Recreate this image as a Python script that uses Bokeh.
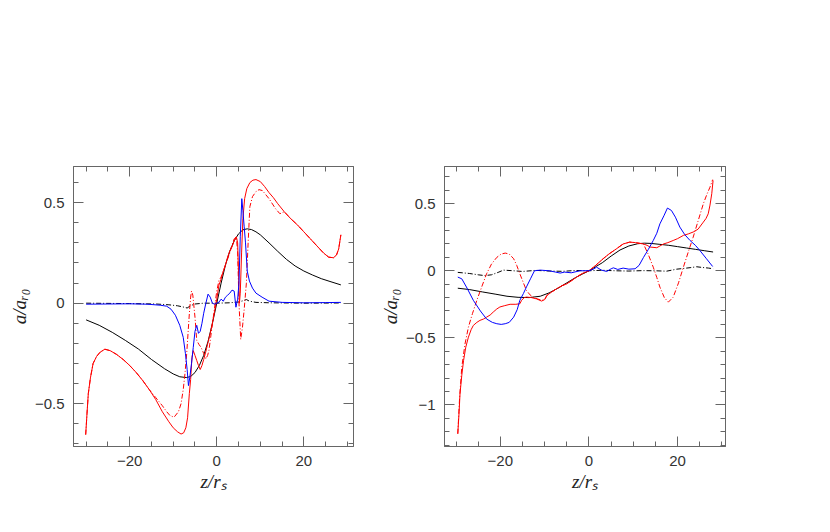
from bokeh.plotting import figure
from bokeh.layouts import row
from bokeh.models import Range1d, LinearAxis, SingleIntervalTicker, CustomJSTickFormatter
from bokeh.embed import file_html
from bokeh.resources import INLINE

# ---------------- left panel data ----------------
L_black_x = [-30, -27, -24, -21, -18, -15, -12, -10, -8.5, -7, -6, -5, -4, -3, -2, -1, 0,
             1, 2, 3, 4, 5, 6, 7, 8, 9, 10, 12, 14, 16, 18, 20, 22, 24, 26, 28.5]
L_black_y = [-0.083, -0.11, -0.145, -0.185, -0.228, -0.28, -0.326, -0.352, -0.366, -0.37,
             -0.365, -0.345, -0.31, -0.26, -0.19, -0.10, 0.0, 0.10, 0.19, 0.26, 0.31, 0.345,
             0.365, 0.37, 0.366, 0.355, 0.34, 0.30, 0.258, 0.218, 0.185, 0.16, 0.14, 0.122,
             0.108, 0.091]

L_blackdd_x = [-30, -20, -14, -11, -9, -7.5, -6.8, -6, -5, -3, 0, 3, 5, 6, 6.8, 7.5, 9, 12, 20, 28.5]
L_blackdd_y = [0.0, -0.002, -0.004, -0.008, -0.013, -0.02, -0.024, -0.012, -0.004, 0.0, 0.0,
               0.002, 0.006, 0.012, 0.018, 0.01, 0.004, 0.002, 0.0, 0.001]

L_blue_x = [-30, -25, -20, -16, -13, -11.5, -10.5, -9.5, -8.5, -7.7, -7.2, -6.8, -6.5, -6.2,
            -5.8, -5.4, -5.0, -4.6, -4.2, -3.8, -3.4, -3.0, -2.5, -2.0, -1.5, -1.0, -0.5, 0,
            0.5, 1.0, 1.5, 2.0, 2.5, 3.0, 3.5, 4.0, 4.4, 4.8, 5.1, 5.4, 5.75, 6.0, 6.3, 6.6,
            7.0, 7.5, 8.2, 9.0, 10.4, 12, 15, 20, 25, 28.5]
L_blue_y = [-0.005, -0.004, -0.003, -0.005, -0.01, -0.015, -0.03, -0.06, -0.11, -0.17, -0.25,
            -0.33, -0.41, -0.37, -0.30, -0.22, -0.14, -0.11, -0.15, -0.14, -0.10, -0.05, 0.0,
            0.045, 0.03, 0.0, -0.005, 0.0, 0.005, 0.02, 0.01, 0.03, 0.04, 0.05, 0.065, 0.06,
            -0.02, 0.02, 0.1, 0.33, 0.52, 0.46, 0.38, 0.30, 0.16, 0.11, 0.075, 0.05, 0.03,
            0.01, 0.004, 0.002, 0.003, 0.004]

L_red_x = [-30.1, -29.8, -29.5, -29, -28.4, -27.6, -26.8, -25.7, -24.5, -23, -21.5, -20, -18.5,
           -17, -15.5, -14, -12.5, -11, -10, -9, -8.2, -7.6, -7.1, -6.7, -6.3, -6.0, -5.7,
           -5.4, -5.0, -4.6, -4.2, -3.8, -3.4, -3.0, -2.5, -2.0, -1.5, -1.0, -0.5, 0, 0.5,
           1.0, 1.5, 2.0, 2.5, 3.0, 3.5, 4.0, 4.5, 4.8, 5.0, 5.2, 5.4, 5.7, 6.0, 6.4, 6.9,
           7.6, 8.3, 9.0, 10, 11, 12, 13, 14, 15.5, 17, 18.5, 20, 21.5, 23, 24.5, 25.7, 26.8,
           27.5, 28, 28.5]
L_red_y = [-0.654, -0.55, -0.45, -0.37, -0.30, -0.265, -0.244, -0.229, -0.236, -0.255, -0.28,
           -0.31, -0.345, -0.385, -0.43, -0.48, -0.54, -0.59, -0.62, -0.64, -0.651, -0.645,
           -0.62, -0.57, -0.45, -0.38, -0.27, -0.236, -0.26, -0.285, -0.31, -0.33, -0.31,
           -0.28, -0.24, -0.194, -0.15, -0.10, -0.04, 0.02, 0.09, 0.12, 0.16, 0.19, 0.23,
           0.26, 0.28, 0.31, 0.33, 0.30, 0.15, 0.0, 0.05, 0.25, 0.42, 0.52, 0.57, 0.60,
           0.612, 0.615, 0.605, 0.58, 0.55, 0.525, 0.495, 0.455, 0.42, 0.39, 0.355, 0.32,
           0.285, 0.25, 0.229, 0.226, 0.24, 0.27, 0.34]

L_reddd_x = [-30.1, -29.8, -29.5, -29, -28.4, -27.6, -26.8, -25.7, -24.5, -23, -21.5, -20,
             -18.5, -17, -15.5, -14, -12.5, -11.5, -10.7, -9.8, -8.8, -8.2, -7.7, -7.3, -6.9,
             -6.6, -6.3, -6.0, -5.8, -5.5, -5.0, -4.6, -4.1, -3.6, -3.0, -2.5, -2.1, -1.8,
             -1.4, -1.0, -0.6, -0.3, 0.0, 0.5, 1.0, 1.5, 2.0, 2.5, 3.0, 3.5, 4.0, 4.5, 4.8,
             5.1, 5.5, 5.9, 6.3, 6.8, 7.2, 7.6, 8.2, 9.0, 9.7, 10.5, 12, 13.5, 14.5, 15.5, 17,
             18.5, 20, 21.5, 23, 24.5, 25.7, 26.8, 27.5, 28, 28.5]
L_reddd_y = [-0.654, -0.55, -0.45, -0.37, -0.30, -0.265, -0.244, -0.229, -0.236, -0.255,
             -0.28, -0.31, -0.345, -0.385, -0.43, -0.47, -0.51, -0.54, -0.56, -0.567, -0.54,
             -0.50, -0.43, -0.35, -0.25, -0.15, -0.053, 0.03, 0.06, 0.04, -0.07, -0.185,
             -0.205, -0.22, -0.25, -0.277, -0.26, -0.235, -0.17, -0.103, -0.04, 0.013, 0.06,
             0.113, 0.13, 0.16, 0.19, 0.22, 0.25, 0.29, 0.32, 0.33, 0.25, 0.0, -0.18, -0.12,
             -0.03, 0.1, 0.3, 0.48, 0.53, 0.555, 0.565, 0.56, 0.52, 0.47, 0.445, 0.455, 0.42,
             0.39, 0.355, 0.32, 0.285, 0.25, 0.229, 0.226, 0.24, 0.27, 0.34]

# ---------------- right panel data ----------------
R_black_x = [-29.6, -27, -24, -21, -18.5, -16, -13.5, -11, -9, -7, -5, -3, -1.5, 0, 1.5, 3, 5,
             7, 9, 11, 12.5, 14, 16, 18, 20, 22, 24, 26, 28]
R_black_y = [-0.13, -0.14, -0.158, -0.175, -0.19, -0.198, -0.2, -0.19, -0.165, -0.13, -0.09,
             -0.05, -0.025, 0.0, 0.03, 0.06, 0.11, 0.155, 0.185, 0.202, 0.206, 0.204, 0.197,
             0.19, 0.18, 0.17, 0.16, 0.15, 0.14]

R_blackdd_x = [-29.6, -27, -25, -23.5, -22, -20.5, -19.3, -17, -15, -12, -9, -6, -3, 0, 3, 6,
               9, 12, 15, 17.5, 19.8, 21.5, 23, 24.3, 25.5, 27, 28]
R_blackdd_y = [-0.012, -0.02, -0.03, -0.036, -0.03, -0.012, 0.005, 0.0, -0.005, 0.003, -0.002,
               -0.004, 0.002, 0.0, 0.004, 0.0, -0.002, 0.001, 0.0, -0.003, 0.012, 0.018, 0.024,
               0.03, 0.025, 0.02, 0.015]

R_blue_x = [-29.6, -28.7, -27.5, -26.1, -24.5, -23.1, -21.8, -20.8, -19.8, -18.9, -18, -17,
            -16.2, -15.6, -14.8, -14.1, -13.2, -12.3, -11, -9, -7.5, -6.5, -5.5, -4, -2, 0, 1,
            1.7, 2.8, 4, 5, 5.5, 6.5, 7.7, 9, 10.4, 11.3, 12.3, 13.4, 14.5, 15.3, 16, 16.9,
            17.7, 18.6, 19.5, 20.5, 21.6, 22.8, 24, 25, 26.5, 27.9]
R_blue_y = [-0.047, -0.06, -0.13, -0.22, -0.30, -0.36, -0.385, -0.395, -0.40, -0.395, -0.385,
            -0.346, -0.29, -0.22, -0.17, -0.12, -0.06, 0.0, 0.005, 0.0, -0.01, -0.017, -0.01,
            -0.015, 0.0, 0.0, 0.012, 0.027, 0.005, -0.005, 0.015, 0.022, 0.01, 0.02, 0.012,
            0.015, 0.04, 0.1, 0.16, 0.226, 0.28, 0.35, 0.41, 0.468, 0.45, 0.40, 0.326, 0.27,
            0.226, 0.19, 0.152, 0.09, 0.032]

R_red_x = [-29.6, -29.3, -29.1, -28.7, -28.3, -27.8, -27.2, -26.6, -26.1, -25.3, -24.6, -23.8,
           -23.1, -22.3, -21.6, -20.8, -20.1, -19, -17.8, -16.5, -15.6, -15.2, -14.6, -14.1,
           -13, -11.8, -10.7, -10, -9.5, -8.5, -7.3, -6, -5, -4, -2.8, -1.5, 0, 1.5, 3.2, 4.5,
           6.2, 7.7, 9.2, 10.5, 12.3, 13.1, 13.8, 15.3, 16, 16.8, 17.8, 19, 20, 21.3, 22.4,
           23.5, 24.6, 25.8, 26.4, 26.9, 27.3, 27.7, 28]
R_red_y = [-1.216, -1.05, -0.918, -0.78, -0.67, -0.57, -0.495, -0.44, -0.408, -0.385, -0.37,
           -0.36, -0.346, -0.33, -0.308, -0.285, -0.27, -0.26, -0.25, -0.25, -0.246, -0.22,
           -0.20, -0.196, -0.20, -0.21, -0.226, -0.215, -0.184, -0.16, -0.134, -0.11, -0.097,
           -0.075, -0.047, -0.02, 0.0, 0.04, 0.09, 0.125, 0.164, 0.20, 0.214, 0.21, 0.20,
           0.19, 0.177, 0.172, 0.185, 0.20, 0.21, 0.226, 0.24, 0.264, 0.275, 0.289, 0.31,
           0.363, 0.39, 0.425, 0.49, 0.575, 0.674]

R_reddd_x = [-29.6, -29.2, -28.7, -28, -27.2, -26.3, -25.3, -24.2, -23.1, -22, -20.8, -19.8,
             -18.9, -18, -17, -16.3, -15.6, -14.8, -14.1, -13.3, -12.6, -11.6, -10.7, -10,
             -9.5, -8.5, -7.3, -6, -5, -4, -2.8, -1.5, 0, 1.5, 3.2, 4.5, 6.2, 7.7, 9.2, 10.5,
             12.3, 13.4, 14.5, 15.3, 16, 17, 17.9, 19, 20.2, 21.3, 22.4, 23.5, 24.6, 25.8,
             26.6, 27.3, 27.9]
R_reddd_y = [-1.216, -0.95, -0.72, -0.55, -0.42, -0.32, -0.22, -0.12, -0.022, 0.05, 0.10,
             0.125, 0.132, 0.125, 0.09, 0.04, -0.022, -0.09, -0.147, -0.18, -0.197, -0.21,
             -0.22, -0.215, -0.184, -0.16, -0.134, -0.11, -0.097, -0.075, -0.047, -0.02, 0.0,
             0.04, 0.09, 0.125, 0.164, 0.20, 0.214, 0.21, 0.20, 0.12, 0.027, -0.05, -0.122,
             -0.20, -0.234, -0.197, -0.09, 0.027, 0.14, 0.25, 0.37, 0.50, 0.57, 0.624, 0.68]

X_LABEL = "z/rₛ"
Y_LABEL = "a/aᵣ₀"

FRAME = "#666666"
TICK_FONT = "Liberation Sans"
LABEL_FONT = "Liberation Serif"


def style_axis(ax, labels=True):
    ax.axis_line_color = FRAME
    ax.major_tick_line_color = FRAME
    ax.minor_tick_line_color = FRAME
    ax.major_tick_in = 10
    ax.major_tick_out = 0
    ax.minor_tick_in = 5
    ax.minor_tick_out = 0
    ax.major_label_text_font = TICK_FONT
    ax.major_label_text_font_size = "15px"
    ax.major_label_text_color = "#333333"
    ax.major_label_standoff = 9
    ax.axis_label_text_font = LABEL_FONT
    ax.axis_label_text_font_style = "italic"
    ax.axis_label_text_font_size = "19px"
    ax.axis_label_text_color = "#222222"
    ax.axis_label_standoff = 2
    if labels:
        ax.formatter = CustomJSTickFormatter(
            code="return tick.toString().replace('-', '\u2212');")
    else:
        ax.formatter = CustomJSTickFormatter(code="return '';")
        ax.major_label_standoff = 0


def make_panel(xr, yr, ylab_interval, fw, left, right, series):
    p = figure(frame_width=fw, frame_height=280,
               x_range=Range1d(*xr), y_range=Range1d(*yr),
               output_backend="svg", toolbar_location=None,
               min_border_left=left, min_border_right=right,
               min_border_top=166, min_border_bottom=60)
    p.xgrid.visible = False
    p.ygrid.visible = False
    p.outline_line_color = FRAME
    p.background_fill_color = "white"
    p.border_fill_color = "white"

    p.xaxis.ticker = SingleIntervalTicker(interval=20, num_minor_ticks=4)
    p.yaxis.ticker = SingleIntervalTicker(interval=ylab_interval, num_minor_ticks=5)
    p.xaxis.axis_label = X_LABEL
    p.yaxis.axis_label = Y_LABEL
    style_axis(p.xaxis[0])
    style_axis(p.yaxis[0])
    top = LinearAxis(ticker=SingleIntervalTicker(interval=20, num_minor_ticks=4))
    rgt = LinearAxis(ticker=SingleIntervalTicker(interval=ylab_interval, num_minor_ticks=5))
    style_axis(top, labels=False)
    style_axis(rgt, labels=False)
    p.add_layout(top, "above")
    p.add_layout(rgt, "right")

    for xs, ys, color, dash in series:
        p.line(xs, ys, line_color=color, line_width=1, line_dash=dash)
    return p


left_series = [
    (L_black_x, L_black_y, "#000000", "solid"),
    (L_blackdd_x, L_blackdd_y, "#000000", "5 2 1 2"),
    (L_reddd_x, L_reddd_y, "#ff0000", "5 2 1 2"),
    (L_red_x, L_red_y, "#ff0000", "solid"),
    (L_blue_x, L_blue_y, "#0000ff", "solid"),
]
right_series = [
    (R_black_x, R_black_y, "#000000", "solid"),
    (R_blackdd_x, R_blackdd_y, "#000000", "5 2 1 2"),
    (R_reddd_x, R_reddd_y, "#ff0000", "5 2 1 2"),
    (R_red_x, R_red_y, "#ff0000", "solid"),
    (R_blue_x, R_blue_y, "#0000ff", "solid"),
]

p1 = make_panel((-32.9, 31.4), (-0.713, 0.68), 0.5, 280, 73, 20, left_series)
p2 = make_panel((-32.6, 30.8), (-1.311, 0.778), 0.5, 281, 71, 20, right_series)

layout = row(p1, p2)
open("out.html", "w").write(file_html(layout, INLINE))
